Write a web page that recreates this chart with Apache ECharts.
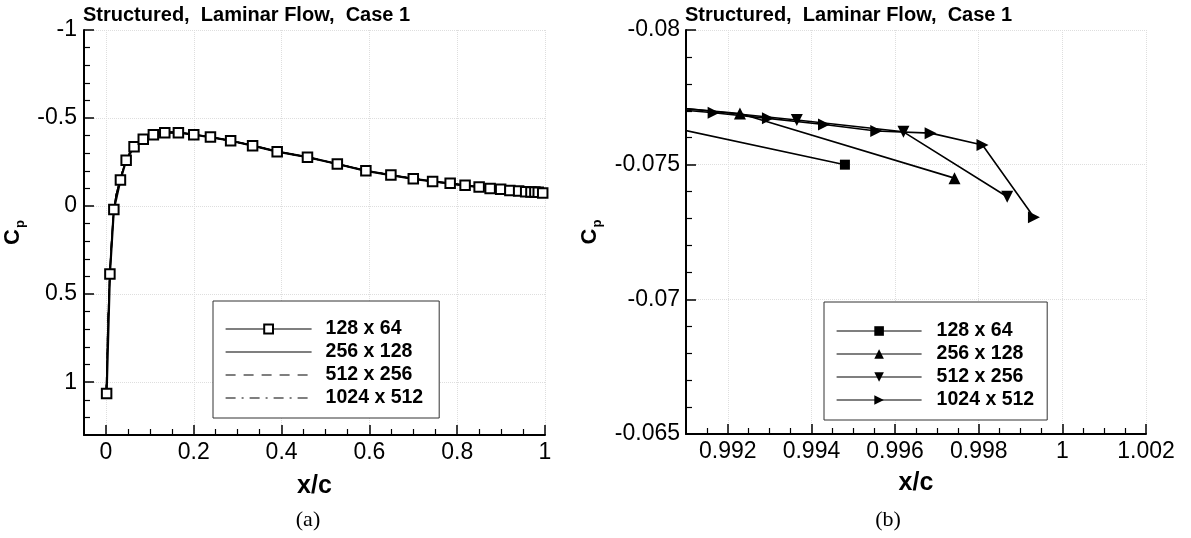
<!DOCTYPE html>
<html><head><meta charset="utf-8">
<script src="https://cdn.jsdelivr.net/npm/echarts@6/dist/echarts.min.js"></script>
<style>
html,body{margin:0;padding:0;background:#fff;}
#ca{position:absolute;left:0;top:0;width:560px;height:538px;}
#cb{position:absolute;left:560px;top:0;width:631px;height:538px;}
</style></head>
<body><div id="ca"></div><div id="cb"></div>
<script>
// ---------- text ----------
const TITLE = 'Structured,  Laminar Flow,  Case 1';
const SERIES_NAMES = ['128 x 64', '256 x 128', '512 x 256', '1024 x 512'];
const X_NAME = 'x/c';
const CAPTIONS = ['(a)', '(b)'];

// ---------- tick labels ----------
const xTicksA = [0, 0.2, 0.4, 0.6, 0.8, 1];
const yTicksA = [-1, -0.5, 0, 0.5, 1];
const xTicksB = [0.992, 0.994, 0.996, 0.998, 1, 1.002];
const yTicksB = [-0.08, -0.075, -0.07, -0.065];

// ---------- data (x/c , Cp) ----------
const x128 = [0.0015,0.009,0.018,0.033,0.046,0.064,0.085,0.108,0.134,0.165,0.2,0.238,0.284,0.334,0.39,0.459,0.527,0.592,0.649,0.7,0.744,0.784,0.818,0.85,0.875,0.899,0.92,0.94,0.956,0.968,0.977,0.9846,0.9948];
const cp128 = [1.065,0.386,0.019,-0.148,-0.261,-0.337,-0.379,-0.405,-0.417,-0.417,-0.405,-0.392,-0.371,-0.343,-0.309,-0.278,-0.239,-0.2,-0.176,-0.155,-0.14,-0.129,-0.118,-0.108,-0.1,-0.095,-0.089,-0.085,-0.082,-0.0805,-0.0795,-0.0784,-0.0750];

// curve shared by the finer grids
const xFine = [0.0004,0.002,0.004,0.007,0.010,0.014,0.018,0.023,0.028,0.033,0.040,0.046,0.055,0.064,0.075,0.085,0.097,0.108,0.120,0.134,0.150,0.165,0.180,0.200,0.238,0.284,0.334,0.390,0.459,0.527,0.592,0.649,0.700,0.750,0.800,0.850,0.900,0.940,0.965,0.980];
const cpFine = [1.07,0.95,0.72,0.50,0.33,0.16,0.02,-0.06,-0.11,-0.155,-0.215,-0.26,-0.305,-0.337,-0.362,-0.38,-0.395,-0.405,-0.412,-0.417,-0.419,-0.418,-0.414,-0.406,-0.392,-0.371,-0.344,-0.31,-0.278,-0.239,-0.201,-0.176,-0.156,-0.138,-0.123,-0.108,-0.095,-0.085,-0.0805,-0.0785];

// trailing-edge points of each finer grid
const x256TE = [0.98719, 0.99229, 0.99742];
const cp256TE = [-0.0776, -0.0769, -0.0745];
const x512TE = [0.9883, 0.9909, 0.99365, 0.9962, 0.99868];
const cp512TE = [-0.0774, -0.0771, -0.07666, -0.07622, -0.07381];
const x1024TE = [0.9891, 0.99036, 0.99166, 0.99296, 0.9943, 0.99555, 0.99685, 0.99809, 0.99932];
const cp1024TE = [-0.0773, -0.0771, -0.07693, -0.07672, -0.07649, -0.07625, -0.07617, -0.07573, -0.07305];

// ---------- helpers ----------
const F = "'Liberation Sans', Arial, Helvetica, sans-serif";
const SERIF = "'Liberation Serif', 'Times New Roman', serif";
const pts = (xs, ys) => xs.map((x, i) => [x, ys[i]]);
const d128 = pts(x128, cp128);
const d256 = pts(xFine.concat(x256TE), cpFine.concat(cp256TE));
const d512 = pts(xFine.concat(x512TE), cpFine.concat(cp512TE));
const d1024 = pts(xFine.concat(x1024TE), cpFine.concat(cp1024TE));

const fmtFrom = (list) => (v) => {
  for (const t of list) if (Math.abs(t - v) < 1e-9) return String(t);
  return '';
};
const cpName = '{c|C}{p|p}';
const cpRich = {
  c: {fontSize: 22, fontWeight: 'bold', fontFamily: F, color: '#000', lineHeight: 24, verticalAlign: 'top'},
  p: {fontSize: 13, fontWeight: 'bold', fontFamily: F, color: '#000', lineHeight: 14, verticalAlign: 'top', padding: [12, 0, 0, 1]}
};
function axisBase() {
  return {
    type: 'value',
    axisLine: {show: true, onZero: false, lineStyle: {color: '#000', width: 2}},
    axisTick: {show: true, inside: true, length: 10, lineStyle: {color: '#000', width: 1.5}},
    minorTick: {show: true, length: 6, lineStyle: {color: '#000', width: 1.2}},
    splitLine: {show: true, lineStyle: {color: '#dedede', type: 'dotted', width: 1}},
    minorSplitLine: {show: false}
  };
}
const labelStyle = {color: '#000', fontSize: 23, fontFamily: F};

// ---------- chart (a) ----------
const chartA = echarts.init(document.getElementById('ca'), null, {renderer: 'canvas'});
const xA = Object.assign(axisBase(), {
  min: -0.05, max: 1, splitNumber: 5,
  minorTick: {show: true, splitNumber: 4, length: 6, lineStyle: {color: '#000', width: 1.2}},
  axisLabel: Object.assign({margin: 6, formatter: fmtFrom(xTicksA), showMinLabel: false}, labelStyle),
  name: X_NAME, nameLocation: 'middle', nameGap: 39,
  nameTextStyle: {fontSize: 25, fontWeight: 'bold', fontFamily: F, color: '#000'}
});
const yA = Object.assign(axisBase(), {
  inverse: true, min: -1, max: 1.3, interval: 0.5,
  minorTick: {show: true, splitNumber: 5, length: 6, lineStyle: {color: '#000', width: 1.2}},
  axisLabel: Object.assign({margin: 7, formatter: fmtFrom(yTicksA), showMaxLabel: false}, labelStyle),
  name: cpName, nameLocation: 'middle', nameRotate: 90, nameGap: 49,
  nameTextStyle: {rich: cpRich}
});
const NOSYM = {color: 'rgba(0,0,0,0)', borderColor: 'rgba(0,0,0,0)', borderWidth: 0};
chartA.setOption({
  animation: false,
  color: ['#000'],
  title: {text: TITLE, left: 83, top: 5, padding: 0,
    textStyle: {fontSize: 20, fontWeight: 'bold', fontFamily: F, color: '#000'}},
  grid: {left: 84, top: 30, width: 461, height: 405, containLabel: false, outerBoundsMode: 'none'},
  xAxis: xA, yAxis: yA,
  legend: {
    orient: 'vertical', left: 213, top: 301, selectedMode: false,
    backgroundColor: '#fff', borderColor: '#333', borderWidth: 1, borderRadius: 0,
    padding: [18, 16, 10, 12], itemWidth: 86, itemHeight: 11, itemGap: 3,
    lineStyle: {width: 1.2},
    textStyle: {fontSize: 19.5, fontWeight: 'bold', fontFamily: F, color: '#000', lineHeight: 19, padding: [0, 0, 0, 9]},
    data: [{name: SERIES_NAMES[0]}, {name: SERIES_NAMES[1], itemStyle: NOSYM},
           {name: SERIES_NAMES[2], itemStyle: NOSYM}, {name: SERIES_NAMES[3], itemStyle: NOSYM}]
  },
  graphic: [{type: 'text', x: 308, y: 520, style: {text: CAPTIONS[0], font: '22px ' + SERIF, fill: '#000', textAlign: 'center', textVerticalAlign: 'middle'}}],
  series: [
    {name: SERIES_NAMES[3], type: 'line', data: d1024, symbol: 'none', lineStyle: {color: '#000', width: 1.5, type: [10, 6, 2, 6]}, itemStyle: {color: '#000'}},
    {name: SERIES_NAMES[2], type: 'line', data: d512, symbol: 'none', lineStyle: {color: '#000', width: 1.5, type: [10, 8]}, itemStyle: {color: '#000'}},
    {name: SERIES_NAMES[1], type: 'line', data: d256, symbol: 'none', lineStyle: {color: '#000', width: 1.5, type: 'solid'}, itemStyle: {color: '#000'}},
    {name: SERIES_NAMES[0], type: 'line', data: d128, symbol: 'emptyRect', symbolSize: 9.5, showSymbol: true,
      lineStyle: {color: '#000', width: 2.2}, itemStyle: {color: '#000', borderColor: '#000', borderWidth: 1.4}}
  ]
});

// ---------- chart (b) ---------- (div starts at x=560)
const chartB = echarts.init(document.getElementById('cb'), null, {renderer: 'canvas'});
const xB = Object.assign(axisBase(), {
  min: 0.991, max: 1.002, splitNumber: 5,
  minorTick: {show: true, splitNumber: 4, length: 6, lineStyle: {color: '#000', width: 1.2}},
  axisLabel: Object.assign({margin: 6, formatter: fmtFrom(xTicksB), showMinLabel: false}, labelStyle),
  name: X_NAME, nameLocation: 'middle', nameGap: 37,
  nameTextStyle: {fontSize: 25, fontWeight: 'bold', fontFamily: F, color: '#000'}
});
const yB = Object.assign(axisBase(), {
  inverse: true, min: -0.08, max: -0.065, interval: 0.005,
  minorTick: {show: true, splitNumber: 5, length: 6, lineStyle: {color: '#000', width: 1.2}},
  axisLabel: Object.assign({margin: 6, formatter: fmtFrom(yTicksB)}, labelStyle),
  name: cpName, nameLocation: 'middle', nameRotate: 90, nameGap: 71,
  nameTextStyle: {rich: cpRich}
});
const SYM_DOWN = 'path://M0,0L10,0L5,9Z';
const SYM_RIGHT = 'path://M0,0L9,5L0,10Z';
chartB.setOption({
  animation: false,
  color: ['#000'],
  title: {text: TITLE, left: 125, top: 5, padding: 0,
    textStyle: {fontSize: 20, fontWeight: 'bold', fontFamily: F, color: '#000'}},
  grid: {left: 126, top: 30, width: 460, height: 404, containLabel: false, outerBoundsMode: 'none'},
  xAxis: xB, yAxis: yB,
  legend: {
    orient: 'vertical', left: 264, top: 302, selectedMode: false,
    backgroundColor: '#fff', borderColor: '#333', borderWidth: 1, borderRadius: 0,
    padding: [19, 13, 10, 12], itemWidth: 85, itemHeight: 12, itemGap: 3,
    lineStyle: {width: 1.2},
    textStyle: {fontSize: 19.5, fontWeight: 'bold', fontFamily: F, color: '#000', lineHeight: 19, padding: [0, 0, 0, 10]},
    data: SERIES_NAMES
  },
  graphic: [{type: 'text', x: 328, y: 520, style: {text: CAPTIONS[1], font: '22px ' + SERIF, fill: '#000', textAlign: 'center', textVerticalAlign: 'middle'}}],
  series: [
    {name: SERIES_NAMES[0], type: 'line', data: d128, symbol: 'rect', symbolSize: 10, clip: true,
      lineStyle: {color: '#000', width: 1.6}, itemStyle: {color: '#000'}},
    {name: SERIES_NAMES[1], type: 'line', data: d256, symbol: 'triangle', symbolSize: 12, clip: true,
      lineStyle: {color: '#000', width: 1.6}, itemStyle: {color: '#000'}},
    {name: SERIES_NAMES[2], type: 'line', data: d512, symbol: SYM_DOWN, symbolSize: 12, clip: true,
      lineStyle: {color: '#000', width: 1.6}, itemStyle: {color: '#000'}},
    {name: SERIES_NAMES[3], type: 'line', data: d1024, symbol: SYM_RIGHT, symbolSize: 12, clip: true,
      lineStyle: {color: '#000', width: 1.6}, itemStyle: {color: '#000'}}
  ]
});
</script>
</body></html>
